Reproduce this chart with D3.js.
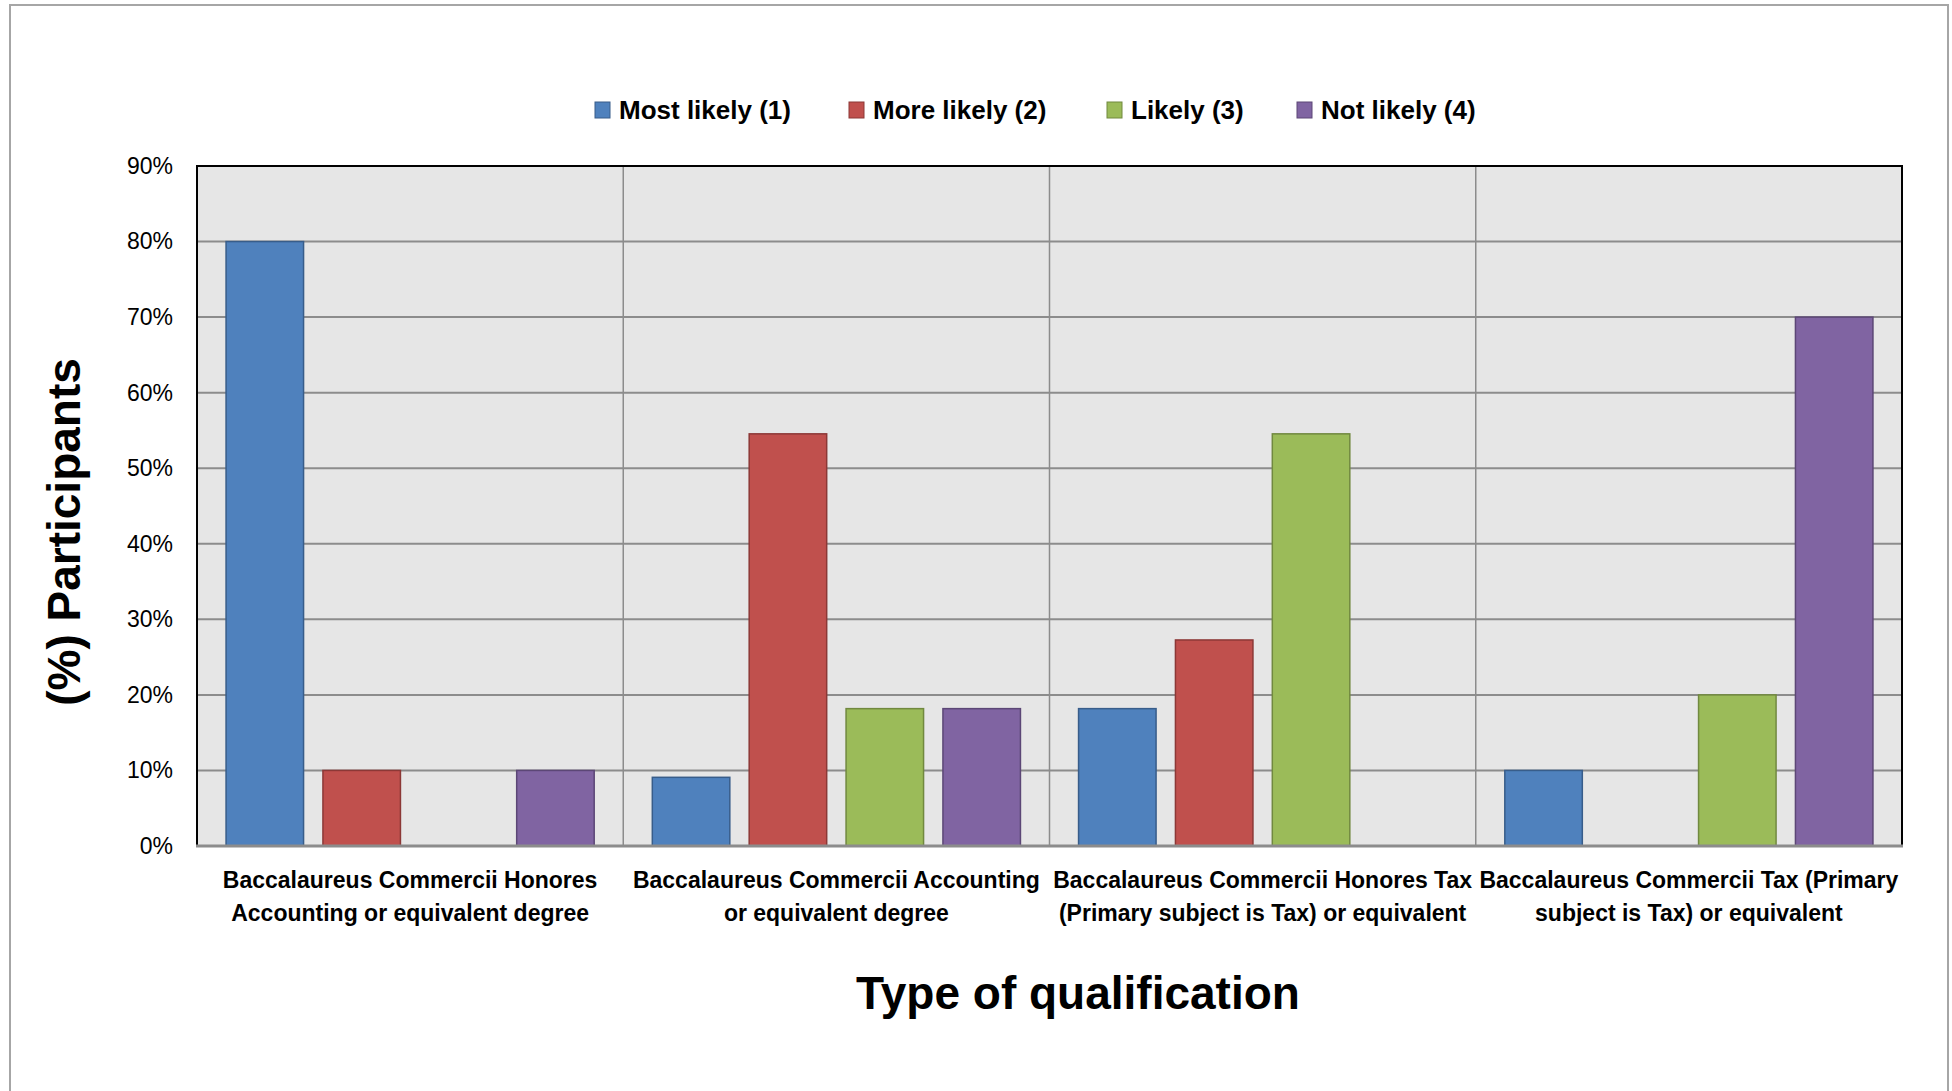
<!DOCTYPE html>
<html>
<head>
<meta charset="utf-8">
<script src="https://cdn.jsdelivr.net/npm/d3@7"></script>
<style>
  body { margin: 0; background: #fff; }
  svg text { font-family: "Liberation Sans Narrow", "Liberation Sans", sans-serif; fill: #000; }
</style>
</head>
<body>
<svg id="chart" width="1952" height="1091"></svg>
<script>
// data
var categories = [
  ["Baccalaureus Commercii Honores", "Accounting or equivalent degree"],
  ["Baccalaureus Commercii Accounting", "or equivalent degree"],
  ["Baccalaureus Commercii Honores Tax", "(Primary subject is Tax) or equivalent"],
  ["Baccalaureus Commercii Tax (Primary", "subject is Tax) or equivalent"]
];
var seriesNames = ["Most likely (1)", "More likely (2)", "Likely (3)", "Not likely (4)"];
var mostLikely = [80, 9.09, 18.18, 10];
var moreLikely = [10, 54.55, 27.27, 0];
var likely = [0, 18.18, 54.55, 20];
var notLikely = [10, 18.18, 0, 70];
var yTicks = [0, 10, 20, 30, 40, 50, 60, 70, 80, 90];

var fills = ["#4f81bd", "#c0504d", "#9bbb59", "#8064a2"];
var strokes = ["#385d8a", "#8c3836", "#71893f", "#5c4776"];

var seriesValues = [mostLikely, moreLikely, likely, notLikely];

var svg = d3.select("#chart");
var margin = { left: 197, top: 166, right: 1902, bottom: 846 };

// outer frame
svg.append("rect")
  .attr("x", 10).attr("y", 5)
  .attr("width", 1938).attr("height", 1100)
  .attr("fill", "#fff")
  .attr("stroke", "#a6a6a6")
  .attr("stroke-width", 2);

var x0 = d3.scaleBand()
  .domain(d3.range(categories.length))
  .range([margin.left, margin.right]);

var x1 = d3.scaleBand()
  .domain(d3.range(seriesNames.length))
  .range([0, x0.bandwidth()])
  .paddingInner(0.2)
  .paddingOuter(0.3);

var y = d3.scaleLinear().domain([0, 90]).range([margin.bottom, margin.top]);

// plot background
svg.append("rect")
  .attr("x", margin.left).attr("y", margin.top)
  .attr("width", margin.right - margin.left)
  .attr("height", margin.bottom - margin.top)
  .attr("fill", "#e6e6e6");

// horizontal gridlines
svg.append("g")
  .selectAll("line")
  .data(yTicks.slice(1, -1))
  .enter()
  .append("line")
  .attr("x1", margin.left).attr("x2", margin.right)
  .attr("y1", function(d) { return y(d); })
  .attr("y2", function(d) { return y(d); })
  .attr("stroke", "#8c8c8c")
  .attr("stroke-width", 2);

// vertical category separators
svg.append("g")
  .selectAll("line")
  .data(d3.range(1, categories.length))
  .enter()
  .append("line")
  .attr("x1", function(d) { return x0(d); })
  .attr("x2", function(d) { return x0(d); })
  .attr("y1", margin.top).attr("y2", margin.bottom)
  .attr("stroke", "#8c8c8c")
  .attr("stroke-width", 1.5);

// bars
var rows = categories.map(function(c, i) {
  return seriesValues.map(function(s, j) {
    return { cat: i, series: j, value: s[i] };
  });
});

svg.append("g")
  .selectAll("g")
  .data(rows)
  .enter()
  .append("g")
  .attr("transform", function(d, i) { return "translate(" + x0(i) + ",0)"; })
  .selectAll("rect")
  .data(function(d) { return d.filter(function(v) { return v.value > 0; }); })
  .enter()
  .append("rect")
  .attr("x", function(d) { return x1(d.series); })
  .attr("width", x1.bandwidth())
  .attr("y", function(d) { return y(d.value); })
  .attr("height", function(d) { return y(0) - y(d.value); })
  .attr("fill", function(d) { return fills[d.series]; })
  .attr("stroke", function(d) { return strokes[d.series]; })
  .attr("stroke-width", 1.5);

// plot border: black left/top/right, gray bottom axis
svg.append("path")
  .attr("d", "M" + margin.left + "," + margin.bottom + "V" + margin.top + "H" + margin.right + "V" + margin.bottom)
  .attr("fill", "none")
  .attr("stroke", "#000")
  .attr("stroke-width", 2);
svg.append("line")
  .attr("x1", margin.left - 1).attr("x2", margin.right + 1)
  .attr("y1", margin.bottom).attr("y2", margin.bottom)
  .attr("stroke", "#8c8c8c")
  .attr("stroke-width", 3);

// y axis labels
var yAxis = d3.axisLeft(y)
  .tickValues(yTicks)
  .tickSize(0)
  .tickPadding(24)
  .tickFormat(function(d) { return d + "%"; });

var yg = svg.append("g")
  .attr("transform", "translate(" + margin.left + ",0)")
  .call(yAxis);
yg.select(".domain").remove();
yg.selectAll("text")
  .style("font-family", "'Liberation Sans', sans-serif")
  .style("font-size", "23px");

// category labels
var catLabels = svg.append("g")
  .selectAll("text")
  .data(categories)
  .enter()
  .append("text")
  .attr("text-anchor", "middle")
  .attr("x", function(d, i) { return x0(i) + x0.bandwidth() / 2; })
  .attr("y", 888)
  .style("font-size", "23px")
  .style("font-weight", "bold");
catLabels.selectAll("tspan")
  .data(function(d) { return d; })
  .enter()
  .append("tspan")
  .attr("x", function() { return d3.select(this.parentNode).attr("x"); })
  .attr("dy", function(d, i) { return i === 0 ? 0 : 33; })
  .text(function(d) { return d; });

// axis titles
svg.append("text")
  .attr("text-anchor", "middle")
  .attr("x", 1078).attr("y", 1009)
  .style("font-size", "46px")
  .style("font-weight", "bold")
  .text("Type of qualification");

svg.append("text")
  .attr("text-anchor", "middle")
  .attr("transform", "translate(80,532) rotate(-90)")
  .style("font-size", "46px")
  .style("font-weight", "bold")
  .text("(%) Participants");

// legend
var legendX = [595, 849, 1107, 1297];
var legend = svg.append("g")
  .selectAll("g")
  .data(seriesNames)
  .enter()
  .append("g")
  .attr("transform", function(d, i) { return "translate(" + legendX[i] + ",110)"; });
legend.append("rect")
  .attr("x", 0).attr("y", -8)
  .attr("width", 15).attr("height", 16)
  .attr("fill", function(d, i) { return fills[i]; })
  .attr("stroke", function(d, i) { return strokes[i]; })
  .attr("stroke-width", 1);
legend.append("text")
  .attr("x", 24).attr("y", 9)
  .style("font-size", "26px")
  .style("font-weight", "bold")
  .text(function(d) { return d; });
</script>
</body>
</html>
